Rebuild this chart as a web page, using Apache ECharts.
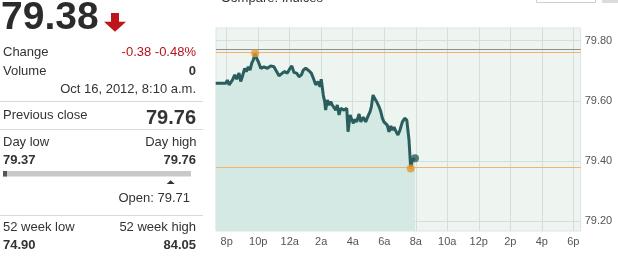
<!DOCTYPE html>
<html>
<head>
<meta charset="utf-8">
<script src="https://cdn.jsdelivr.net/npm/echarts@6/dist/echarts.min.js"></script>
<style>
html,body{margin:0;padding:0;background:#fff;}
#chart{width:618px;height:257px;}
</style>
</head>
<body>
<div id="chart"></div>
<script>
// Hours since midnight of Oct 15 (20 = 8p, 24 = 12a, 32 = 8a ...)
const timeOfDay = [19.30,19.94,20.04,20.15,20.36,20.51,20.63,20.78,20.89,20.99,21.14,21.24,21.37,21.48,21.59,21.69,21.80,21.90,22.01,22.16,22.37,22.58,22.79,23.00,23.17,23.32,23.53,23.68,23.85,24.02,24.13,24.27,24.44,24.59,24.74,24.86,25.01,25.22,25.37,25.50,25.65,25.80,25.92,26.00,26.13,26.22,26.28,26.39,26.49,26.60,26.70,26.81,26.92,27.02,27.13,27.24,27.45,27.62,27.70,27.83,27.91,28.04,28.12,28.25,28.40,28.51,28.67,28.82,28.97,29.10,29.18,29.29,29.39,29.52,29.67,29.78,29.88,29.98,30.09,30.19,30.30,30.41,30.51,30.62,30.73,30.87,31.00,31.15,31.30,31.43,31.51,31.57,31.68,31.78,31.95];
const prices = [79.658,79.658,79.669,79.653,79.669,79.686,79.672,79.692,79.664,79.680,79.708,79.697,79.713,79.702,79.725,79.736,79.758,79.741,79.730,79.708,79.713,79.708,79.716,79.713,79.697,79.683,79.692,79.697,79.692,79.708,79.716,79.694,79.692,79.680,79.686,79.702,79.708,79.700,79.692,79.675,79.653,79.664,79.647,79.672,79.619,79.597,79.569,79.603,79.586,79.597,79.586,79.592,79.569,79.586,79.553,79.575,79.569,79.575,79.497,79.553,79.542,79.525,79.538,79.530,79.556,79.530,79.545,79.530,79.549,79.564,79.580,79.619,79.608,79.597,79.580,79.564,79.542,79.530,79.536,79.519,79.497,79.516,79.503,79.512,79.500,79.486,79.503,79.530,79.542,79.536,79.542,79.470,79.375,79.403,79.409];
const xTicks = [20,22,24,26,28,30,32,34,36,38,40,42];
const yTicks = [79.2,79.4,79.6,79.8];
const prevClose = 79.767;
const dayHighLine = 79.756;
const dayLowLine = 79.375;

const FONT = '"Liberation Sans", Arial, sans-serif';

function hourLabel(v){
  const h = ((Math.round(v) % 24) + 24) % 24;
  if (h === 0) return '12a';
  if (h < 12) return h + 'a';
  if (h === 12) return '12p';
  return (h - 12) + 'p';
}

const seriesData = timeOfDay.map((t, i) => [t, prices[i]]);
let hiIdx = 0, loIdx = 0;
prices.forEach((p, i) => { if (p > prices[hiIdx]) hiIdx = i; if (p < prices[loIdx]) loIdx = i; });
const lastIdx = prices.length - 1;

function txt(x, y, text, opts){
  opts = opts || {};
  return {
    type: 'text', x: x, y: y, silent: true,
    style: {
      text: text,
      font: (opts.weight || 'normal') + ' ' + (opts.size || 13) + 'px ' + FONT,
      fill: opts.color || '#333',
      textAlign: opts.align || 'left',
      textVerticalAlign: 'middle'
    }
  };
}
function hline(y){
  return {type:'line', silent:true, shape:{x1:0,y1:y,x2:203,y2:y}, style:{stroke:'#d9d9d9', lineWidth:1}};
}

const graphics = [
  txt(1, 18, '79.38', {size:39, weight:'bold', color:'#2b2b2b'}),
  {type:'polygon', silent:true, shape:{points:[[111,13],[119,13],[119,21.7],[126,21.7],[115,31.7],[104,21.7],[111,21.7]]}, style:{fill:'#c0141b'}},
  txt(3, 52, 'Change'),
  txt(196, 52, '-0.38 -0.48%', {align:'right', color:'#b5121b'}),
  txt(3, 71, 'Volume'),
  txt(196, 71, '0', {align:'right', weight:'bold'}),
  txt(196, 89.5, 'Oct 16, 2012, 8:10 a.m.', {align:'right'}),
  hline(101.5),
  txt(3, 115, 'Previous close'),
  txt(196, 118, '79.76', {align:'right', weight:'bold', size:20}),
  hline(129.5),
  txt(3, 142.5, 'Day low'),
  txt(196.5, 142.5, 'Day high', {align:'right'}),
  txt(3, 160, '79.37', {weight:'bold'}),
  txt(196, 160, '79.76', {align:'right', weight:'bold'}),
  {type:'rect', silent:true, shape:{x:3,y:171,width:188,height:5.5}, style:{fill:'#c9c9c9'}},
  {type:'rect', silent:true, shape:{x:3,y:171,width:4,height:5.5}, style:{fill:'#555'}},
  {type:'polygon', silent:true, shape:{points:[[170.7,180.3],[166.7,184],[174.7,184]]}, style:{fill:'#333'}},
  txt(190, 198.5, 'Open: 79.71', {align:'right'}),
  hline(215.5),
  txt(3, 227, '52 week low'),
  txt(196, 227, '52 week high', {align:'right'}),
  txt(3, 245, '74.90', {weight:'bold'}),
  txt(196, 245, '84.05', {align:'right', weight:'bold'}),
  // top fragments
  txt(221, -2, 'Compare: Indices', {color:'#333'}),
  {type:'rect', silent:true, shape:{x:536.5,y:-20,width:59,height:22.5}, style:{fill:'#fff', stroke:'#cfcfcf', lineWidth:1}},
  {type:'rect', silent:true, shape:{x:602,y:-20,width:20,height:23}, style:{fill:'#dcdcdc'}}
];

const chart = echarts.init(document.getElementById('chart'), null, {renderer:'canvas'});
chart.setOption({
  animation: false,
  backgroundColor: '#ffffff',
  textStyle: {fontFamily: FONT},
  grid: {left: 216, right: 37.3, top: 28, bottom: 26, show: true, backgroundColor: '#eef5f1', borderColor: '#dce5e1', borderWidth: 1},
  xAxis: {
    type: 'value', min: 19.32, max: 42.47,
    axisLine: {show: false},
    axisTick: {show: false, customValues: xTicks},
    axisLabel: {customValues: xTicks, formatter: hourLabel, color: '#555', fontSize: 11, margin: 5, fontFamily: FONT},
    splitLine: {show: true, lineStyle: {color: '#d3dfdb', width: 1}}
  },
  yAxis: {
    type: 'value', position: 'right', min: 79.167, max: 79.842,
    axisLine: {show: false},
    axisTick: {show: false, customValues: yTicks},
    axisLabel: {customValues: yTicks, formatter: v => v.toFixed(2), color: '#555', fontSize: 11, margin: 4, fontFamily: FONT},
    splitLine: {show: true, lineStyle: {color: '#d3dfdb', width: 1}}
  },
  series: [
    {
      type: 'line', data: seriesData, symbol: 'none', smooth: false,
      lineStyle: {color: '#2a5d5d', width: 3},
      areaStyle: {color: '#d4e8e4', opacity: 1, origin: 'start'},
      markLine: {
        silent: true, symbol: 'none', label: {show: false},
        data: [
          {yAxis: prevClose, lineStyle: {color: '#8f8f8f', width: 1, type: 'solid'}},
          {yAxis: dayHighLine, lineStyle: {color: '#f0b46e', width: 1, type: 'solid'}},
          {yAxis: dayLowLine, lineStyle: {color: '#f0b46e', width: 1, type: 'solid'}}
        ]
      },
      z: 3
    },
    {
      type: 'scatter', symbolSize: 8, z: 5, silent: true,
      data: [
        {value: seriesData[hiIdx], itemStyle: {color: '#e3982f'}},
        {value: seriesData[loIdx], itemStyle: {color: '#e3982f'}},
        {value: seriesData[lastIdx], itemStyle: {color: '#2a5d5d'}}
      ]
    }
  ],
  graphic: graphics
});
</script>
</body>
</html>
